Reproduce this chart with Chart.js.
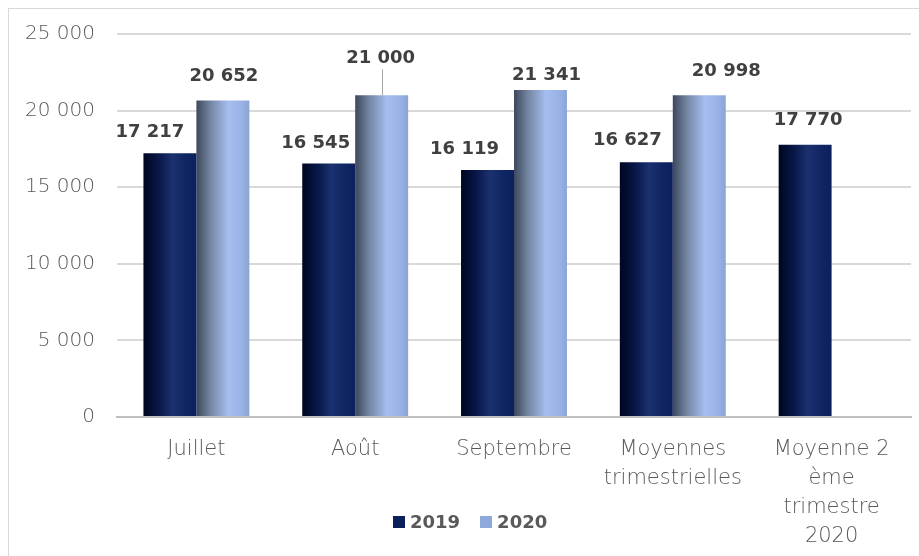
<!DOCTYPE html>
<html>
<head>
<meta charset="utf-8">
<script src="https://cdn.jsdelivr.net/npm/chart.js@4"></script>
<style>
  html, body { margin: 0; padding: 0; background: #fff; }
  #wrap { position: relative; width: 919px; height: 556px; overflow: hidden; }
  #frame { position: absolute; left: 8px; top: 8px; width: 911px; height: 548px; border-left: 1px solid #d9d9d9; border-top: 1px solid #d9d9d9; box-sizing: border-box; }
  #chart { position: absolute; left: 0; top: 0; }
  #legend { position: absolute; left: 393px; top: 511px; font: bold 18px "DejaVu Sans", sans-serif; color: #595959; display: flex; align-items: center; }
  #legend span.box { display: inline-block; width: 12px; height: 12px; margin-right: 5px; }
  #legend span.item { display: inline-flex; align-items: center; margin-right: 20px; }
</style>
</head>
<body>
<div id="wrap">
  <div id="frame"></div>
  <canvas id="chart" width="919" height="556"></canvas>
  <div id="legend"></div>
</div>
<script>
// data
const categories = ["Juillet", "Août", "Septembre", ["Moyennes", "trimestrielles"], ["Moyenne 2", "ème", "trimestre", "2020"]];
const series2019 = [17217, 16545, 16119, 16627, 17770];
const series2020 = [20652, 21000, 21341, 20998, null];
const yTicks = [0, 5000, 10000, 15000, 20000, 25000];

// label placement tweaks (px), like the original
const labelShift = [
    { dx: [-20, -13, -23, -19, 3], lift: [21, 20, 21, 22, 24] },
    { dx: [1, -1, 6, 27, 0], lift: [24, 37, 15, 24, 0] }
];

const CAT_PCT = 0.667;

function fmt(v) {
    return String(v).replace(/\B(?=(\d{3})+(?!\d))/g, " ");
}

function barGradient(ctx, stops) {
    const chart = ctx.chart;
    const area = chart.chartArea;
    const xs = chart.scales.x;
    if (!area || !xs) return stops[stops.length - 1][1];
    const catW = area.width / categories.length;
    const barW = catW * CAT_PCT / 2;
    const cx = xs.getPixelForValue(ctx.dataIndex);
    const left = cx - barW + ctx.datasetIndex * barW;
    const g = chart.ctx.createLinearGradient(left, 0, left + barW, 0);
    for (const s of stops) g.addColorStop(s[0], s[1]);
    return g;
}

const darkStops = [[0, "#000620"], [0.3, "#08184a"], [0.55, "#1b3170"], [0.75, "#112766"], [1, "#0b205c"]];
const lightStops = [[0, "#3d475c"], [0.25, "#71839f"], [0.6, "#a5bef0"], [0.85, "#9ab3e6"], [1, "#8aa4d6"]];

const valueLabels = {
    id: "valueLabels",
    afterDatasetsDraw(chart) {
        const c = chart.ctx;
        c.save();
        c.font = "bold 18px 'DejaVu Sans', sans-serif";
        c.fillStyle = "#404040";
        c.textAlign = "center";
        c.textBaseline = "middle";
        chart.data.datasets.forEach((ds, di) => {
            const meta = chart.getDatasetMeta(di);
            meta.data.forEach((el, i) => {
                const v = ds.data[i];
                if (v === null) return;
                const x = el.x + labelShift[di].dx[i];
                const y = el.y - labelShift[di].lift[i];
                c.fillText(fmt(v), x, y);
                if (labelShift[di].lift[i] > 30) {
                    c.strokeStyle = "#a6a6a6";
                    c.lineWidth = 1;
                    c.beginPath();
                    c.moveTo(Math.round(el.x) + 0.5, el.y);
                    c.lineTo(Math.round(el.x) + 0.5, y + 11);
                    c.stroke();
                }
            });
        });
        c.restore();
    }
};

const chart = new Chart(document.getElementById("chart"), {
    type: "bar",
    data: {
        labels: categories,
        datasets: [
            { label: "2019", data: series2019, backgroundColor: ctx => barGradient(ctx, darkStops), legendColor: "#0b1f5c" },
            { label: "2020", data: series2020, backgroundColor: ctx => barGradient(ctx, lightStops), legendColor: "#8eaadb" }
        ]
    },
    options: {
        responsive: false,
        animation: false,
        events: [],
        layout: { padding: { top: 30, right: 8, left: 0, bottom: 0 } },
        datasets: { bar: { categoryPercentage: CAT_PCT, barPercentage: 1, borderWidth: 0 } },
        plugins: { legend: { display: false }, tooltip: { enabled: false } },
        scales: {
            x: {
                grid: { display: false, drawTicks: false },
                border: { color: "#bfbfbf", width: 2 },
                ticks: {
                    color: "#595959",
                    font: { family: "'DejaVu Sans', sans-serif", size: 21, weight: 300, lineHeight: 1.38 },
                    padding: 18,
                    maxRotation: 0,
                    autoSkip: false
                },
                afterFit(scale) { scale.height = 139; }
            },
            y: {
                min: 0,
                max: 25000,
                afterBuildTicks(scale) { scale.ticks = yTicks.map(v => ({ value: v })); },
                grid: { color: "#d9d9d9", lineWidth: 2, drawTicks: false },
                border: { display: false },
                ticks: {
                    color: "#595959",
                    font: { family: "'DejaVu Sans', sans-serif", size: 20, weight: 300 },
                    padding: 22,
                    callback: v => fmt(v)
                },
                afterFit(scale) { scale.width = 117; }
            }
        }
    },
    plugins: [valueLabels]
});

// legend
const legend = document.getElementById("legend");
chart.data.datasets.forEach(ds => {
    const item = document.createElement("span");
    item.className = "item";
    item.innerHTML = `<span class="box" style="background:${ds.legendColor}"></span>${ds.label}`;
    legend.appendChild(item);
});
</script>
</body>
</html>
